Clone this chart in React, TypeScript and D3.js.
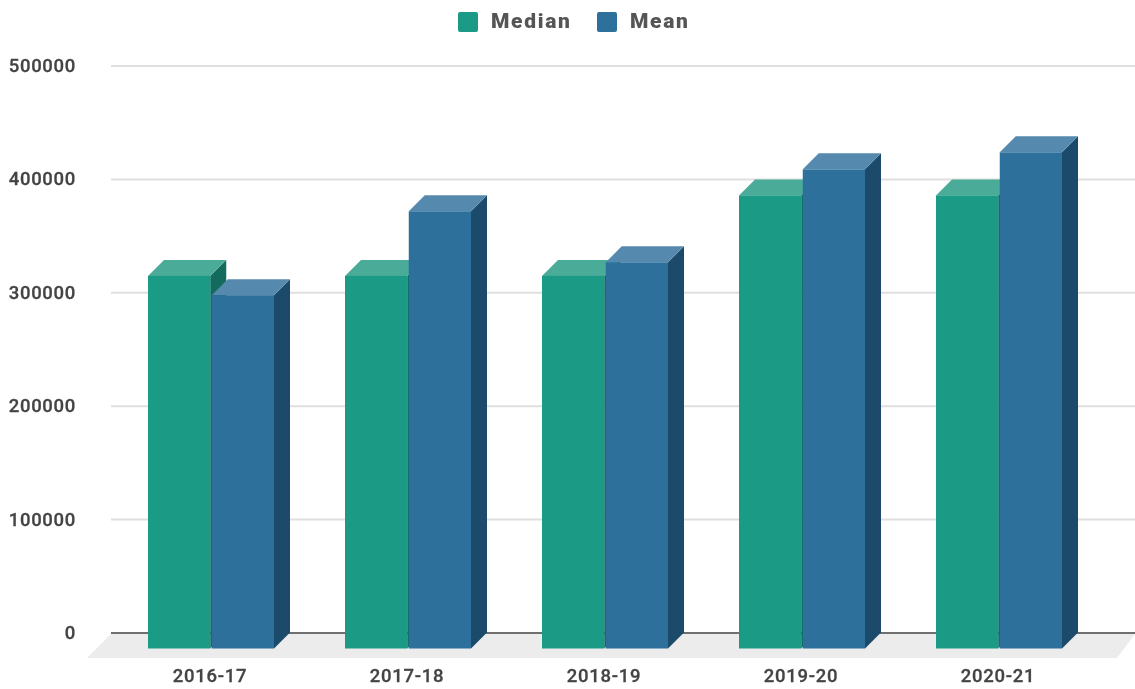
import * as d3 from 'd3';

const categories = ['2016-17', '2017-18', '2018-19', '2019-20', '2020-21'];
const seriesNames = ['Median', 'Mean'];
const medianValues = [329000, 329000, 329000, 400000, 400000];
const meanValues = [312000, 386000, 341000, 423000, 438000];
const yTicks = [0, 100000, 200000, 300000, 400000, 500000];

const W = 1135;
const H = 689;
const depth = 16;
const font = 'Roboto, sans-serif';

const faces: any = {
  Median: { front: '#1b9a85', top: '#49ab98', side: '#126b5d' },
  Mean: { front: '#2d709c', top: '#5589ae', side: '#1c4a6a' },
};

// back wall scale, the bars sit one depth in front of it
const y = d3.scaleLinear().domain([0, 500000]).range([633, 66]);
const x0 = d3.scaleBand().domain(categories).range([112.5, 1097.5]);
const x1 = d3.scaleBand().domain(seriesNames).range([-63, 63]).paddingInner(0.024);

const Bar = ({ name, cat, value }: any) => {
  const c = faces[name];
  const left = x0(cat)! + x0.bandwidth() / 2 + x1(name)!;
  const right = left + x1.bandwidth();
  const top = y(value) + depth;
  const bottom = y(0) + depth - 0.5;
  const line = d3.line();
  return (
    <g>
      <path
        d={line([[right, top], [right + depth, top - depth], [right + depth, bottom - depth], [right, bottom]])!}
        fill={c.side}
      />
      <path
        d={line([[left, top], [left + depth, top - depth], [right + depth, top - depth], [right, top]])!}
        fill={c.top}
      />
      <rect x={left} y={top} width={right - left} height={bottom - top} fill={c.front} />
    </g>
  );
};

export default function App() {
  const seriesValues: any = { Median: medianValues, Mean: meanValues };
  const labelStyle: any = {
    fontFamily: font,
    fontWeight: 500,
    fontSize: 18.5,
    letterSpacing: 0.7,
    fill: '#444',
    stroke: '#444',
    strokeWidth: 0.3,
  };
  return (
    <svg
      width={W}
      height={H}
      style={{ position: 'absolute', left: 0, top: 0, background: '#fff', filter: 'blur(0.5px)' }}
    >
      {/* floor */}
      <path d="M111,634L1135,634L1117,658L87,658Z" fill="#ececec" />

      {yTicks.map((t) => (
        <g key={t}>
          {t > 0 && <line x1={111} x2={1135} y1={y(t)} y2={y(t)} stroke="#dfdfdf" strokeWidth={2} />}
          <text x={76} y={y(t)} textAnchor="end" dominantBaseline="central" style={labelStyle}>
            {t}
          </text>
        </g>
      ))}
      <line x1={111} x2={1135} y1={y(0)} y2={y(0)} stroke="#6f6f6f" strokeWidth={2} />

      {categories.map((cat, i) => (
        <g key={cat}>
          {seriesNames.map((name) => (
            <Bar key={name} name={name} cat={cat} value={seriesValues[name][i]} />
          ))}
          <text
            x={x0(cat)! + x0.bandwidth() / 2 - 1}
            y={676}
            textAnchor="middle"
            dominantBaseline="central"
            style={labelStyle}
          >
            {cat}
          </text>
        </g>
      ))}

      {/* legend */}
      {seriesNames.map((name, i) => {
        const lx = [458, 597][i];
        return (
          <g key={name}>
            <rect x={lx} y={12} width={20} height={20} rx={2} fill={faces[name].front} />
            <text
              x={lx + 33}
              y={21}
              dominantBaseline="central"
              fontFamily={font}
              fontWeight={900}
              fontSize={21}
              letterSpacing={1.7}
              fill="#555"
            >
              {name}
            </text>
          </g>
        );
      })}
    </svg>
  );
}
